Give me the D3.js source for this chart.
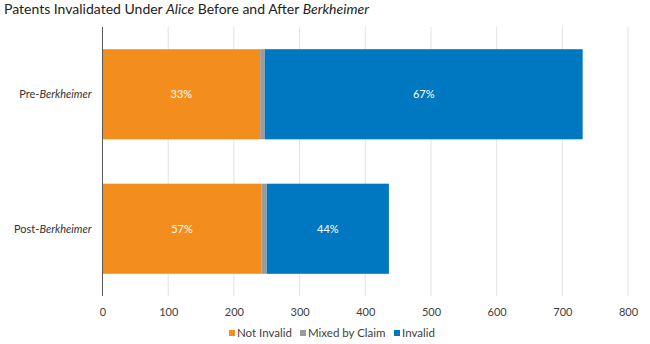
<!DOCTYPE html>
<html><head><meta charset="utf-8">
<script src="https://cdn.jsdelivr.net/npm/d3@7"></script>
<style>body{margin:0;background:#fff;} svg{display:block;font-family:Lato,"Noto Sans",sans-serif;}</style>
</head><body>
<svg id="c" width="650" height="344"></svg>
<script>
const categories = ["Pre-Berkheimer", "Post-Berkheimer"];
const seriesNames = ["Not Invalid", "Mixed by Claim", "Invalid"];
const notInvalid = [240, 242];
const mixedByClaim = [7, 8];
const invalid = [484, 186];
const pctLabelsNotInvalid = ["33%", "57%"];
const pctLabelsInvalid = ["67%", "44%"];
const xTicks = [0, 100, 200, 300, 400, 500, 600, 700, 800];
const colors = ["#F38D1E", "#9B9B9B", "#0077C1"];

const svg = d3.select("#c");
const m = {left: 102.5, right: 22, top: 27, bottom: 48};
const W = 650, H = 344;
const x = d3.scaleLinear().domain([0, 800]).range([m.left, W - m.right]);
const y = d3.scaleBand().domain(categories).range([m.top, H - m.bottom]).paddingInner(0.33).paddingOuter(0.165);

const rows = categories.map((c, i) => ({cat: c, "Not Invalid": notInvalid[i], "Mixed by Claim": mixedByClaim[i], "Invalid": invalid[i]}));
const stack = d3.stack().keys(seriesNames)(rows);

// gridlines
svg.append("g").selectAll("line").data(xTicks.slice(1)).join("line")
  .attr("x1", d => x(d)).attr("x2", d => x(d)).attr("y1", m.top).attr("y2", H - m.bottom)
  .attr("stroke", "#e3e3e3").attr("stroke-width", 1);

// bars
svg.append("g").selectAll("g").data(stack).join("g").attr("fill", (d, i) => colors[i])
  .selectAll("rect").data(d => d).join("rect")
  .attr("x", d => x(d[0])).attr("width", d => x(d[1]) - x(d[0]))
  .attr("y", d => y(d.data.cat)).attr("height", y.bandwidth());

// percentage labels
const lbl = svg.append("g").attr("fill", "#fff").attr("font-size", 11).attr("text-anchor", "middle");
stack[0].forEach((d, i) => lbl.append("text").attr("x", (x(d[0]) + x(d[1])) / 2).attr("y", y(categories[i]) + y.bandwidth() / 2).attr("dy", "0.35em").text(pctLabelsNotInvalid[i]));
stack[2].forEach((d, i) => lbl.append("text").attr("x", (x(d[0]) + x(d[1])) / 2).attr("y", y(categories[i]) + y.bandwidth() / 2).attr("dy", "0.35em").text(pctLabelsInvalid[i]));

// axis line
svg.append("line").attr("x1", x(0)).attr("x2", x(0)).attr("y1", m.top).attr("y2", H - m.bottom).attr("stroke", "#595959").attr("stroke-width", 1);

// x axis
const xa = svg.append("g").attr("transform", `translate(0,${H - m.bottom})`)
  .call(d3.axisBottom(x).tickValues(xTicks).tickSize(0).tickPadding(12));
xa.select(".domain").remove();
xa.selectAll("text").attr("font-size", 11).attr("fill", "#404040").attr("font-family", "Lato,sans-serif");

// y labels
const ya = svg.append("g").attr("font-size", 11).attr("fill", "#333").attr("text-anchor", "end");
categories.forEach(c => {
  const [pre, post] = c.split("-");
  const t = ya.append("text").attr("x", m.left - 11).attr("y", y(c) + y.bandwidth() / 2).attr("dy", "0.35em");
  t.append("tspan").text(pre + "-");
  t.append("tspan").attr("font-style", "italic").text(post);
});

// title
const title = svg.append("text").attr("x", 4).attr("y", 14).attr("font-size", 14).attr("fill", "#222");
title.append("tspan").text("Patents Invalidated Under ");
title.append("tspan").attr("font-style", "italic").text("Alice");
title.append("tspan").text(" Before and After ");
title.append("tspan").attr("font-style", "italic").text("Berkheimer");

// legend
const lx = [229, 300, 394];
const lg = svg.append("g").attr("font-size", 11.5).attr("fill", "#404040");
seriesNames.forEach((s, i) => {
  lg.append("rect").attr("x", lx[i]).attr("y", 330).attr("width", 6).attr("height", 6).attr("fill", colors[i]);
  lg.append("text").attr("x", lx[i] + 8).attr("y", 333).attr("dy", "0.35em").text(s);
});
</script>
</body></html>
